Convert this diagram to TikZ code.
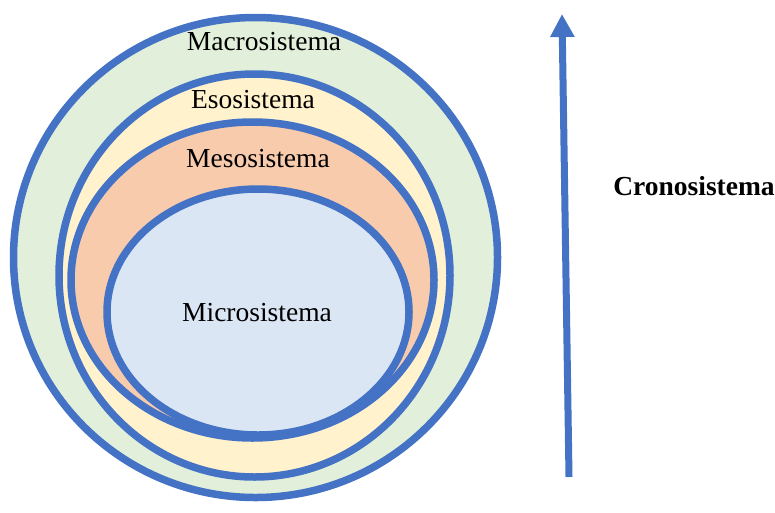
\documentclass[tikz,border=0pt]{standalone}
\usepackage{fontspec}
\setmainfont{Liberation Serif}
\usetikzlibrary{arrows.meta}
\definecolor{ringblue}{HTML}{4472C4}
\definecolor{macrofill}{HTML}{E2EFDA}
\definecolor{esofill}{HTML}{FFF2CC}
\definecolor{mesofill}{HTML}{F8CBAD}
\definecolor{microfill}{HTML}{DAE6F4}
\begin{document}
\begin{tikzpicture}[x=1pt,y=-1pt,
  ring/.style={draw=ringblue,line width=7.5pt},
  label/.style={font=\fontsize{27.5}{32}\selectfont,text=black,inner sep=0pt},
  timearrow/.style={draw=ringblue,line width=7pt,-{Triangle[length=23pt,width=23pt]}}]
  \useasboundingbox (0,0) rectangle (775,512);
  % nested systems, outermost first
  \path[ring,fill=macrofill] (255.5,257.5) ellipse [x radius=242,y radius=240];
  \path[ring,fill=esofill]   (254.5,275.5) ellipse [x radius=195.5,y radius=201.5];
  \path[ring,fill=mesofill]  (252.5,280)   ellipse [x radius=181.5,y radius=158];
  \path[ring,fill=microfill] (258,312)     ellipse [x radius=151,y radius=123];
  % labels
  \node[label] (macro) at (264,42)  {Macrosistema};
  \node[label] (eso)   at (253,100) {Esosistema};
  \node[label] (meso)  at (258,159) {Mesosistema};
  \node[label] (micro) at (257,313) {Microsistema};
  % time axis
  \coordinate (tstart) at (569,477);
  \coordinate (tend) at (562,14);
  \draw[timearrow] (tstart) -- (tend);
  \node[label,font=\fontsize{27.5}{32}\selectfont\bfseries] (crono) at (694,186) {Cronosistema};
\end{tikzpicture}
\end{document}
